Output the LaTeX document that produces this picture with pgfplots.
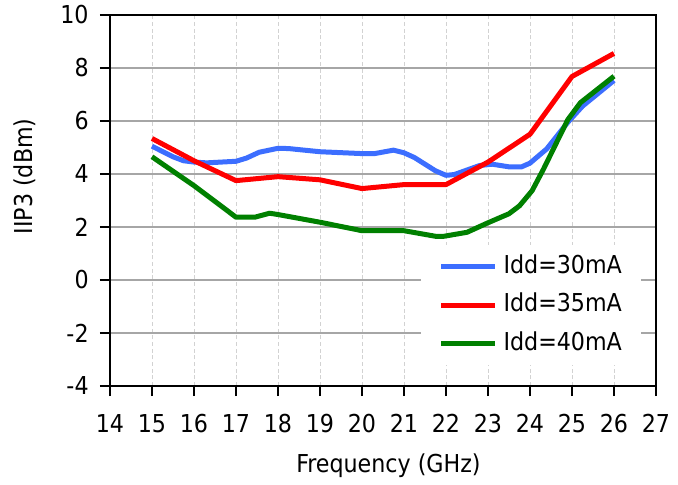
\documentclass[border=0pt]{standalone}
\usepackage{fontspec}
\setmainfont{DejaVu Sans Condensed}
\usepackage{pgfplots}
\pgfplotsset{compat=1.18}
\definecolor{c30}{RGB}{60,110,255}
\definecolor{c35}{RGB}{255,0,0}
\definecolor{c40}{RGB}{0,128,0}
\newcommand\lblfont{\fontsize{18.5}{22}\selectfont}

\begin{document}
\begin{tikzpicture}
\useasboundingbox (-82.5pt,-74.25pt) rectangle (426pt,289.5pt);
\begin{axis}[
    at={(0,0)}, anchor=south west,
    scale only axis,
    width=409.5pt, height=278.25pt,
    xmin=14, xmax=27, ymin=-4, ymax=10,
    xtick={14,...,27}, ytick={-4,-2,...,10},
    /pgf/number format/assume math mode=true,
    tick label style={font=\lblfont},
    xticklabel style={yshift=-10pt},
    yticklabel style={xshift=-5pt},
    label style={font=\lblfont},
    xlabel={Frequency (GHz)},
    ylabel={IIP3 (dBm)},
    xlabel style={at={(axis description cs:0.51,-0.2156)}, anchor=center},
    ylabel style={at={(axis description cs:-0.1557,0.565)}, anchor=center},
    tick align=outside, tick pos=left,
    major tick length=7.5pt,
    every tick/.style={black, line width=1.2pt},
    axis line style={black, line width=1.6pt},
    xmajorgrids, ymajorgrids,
    x grid style={gray!35, line width=0.6pt, dash pattern=on 3pt off 2pt},
    y grid style={gray!70, line width=1.5pt},
    legend style={at={(0.57,0.380)}, anchor=north west, fill=white, draw=none,
        font=\lblfont, inner xsep=13pt, inner ysep=6pt,
        row sep=8.9pt, column sep=3.3pt,
        nodes={inner sep=1pt, text height=14pt, text depth=4pt}},
    legend cell align=left,
    legend image code/.code={\draw[line width=3.75pt] (0pt,0pt) -- (40.5pt,0pt);},
    every axis plot/.append style={line width=3.75pt, line join=round},
]

\addplot[c30] coordinates {
    (15,5.05) (15.5,4.65) (15.75,4.5) (16,4.45) (16.3,4.42) (17,4.48)
    (17.25,4.6) (17.55,4.82) (18,4.97) (18.25,4.96) (19,4.84) (20,4.77)
    (20.3,4.77) (20.75,4.9) (21,4.8) (21.25,4.62) (21.75,4.12) (22,3.95)
    (22.2,3.98) (22.8,4.32) (23.1,4.37) (23.5,4.27) (23.8,4.27) (24,4.41)
    (24.4,4.95) (24.9,5.95) (25.25,6.56) (26,7.53)
};
\addlegendentry{Idd=30mA}

\addplot[c35] coordinates {
    (15,5.34) (16,4.5) (17,3.75) (18,3.9) (19,3.78) (20,3.45)
    (21,3.6) (22,3.6) (23,4.45) (24,5.5) (25,7.68) (26,8.55)
};
\addlegendentry{Idd=35mA}

\addplot[c40] coordinates {
    (15,4.65) (16,3.56) (17,2.37) (17.45,2.37) (17.8,2.52) (18,2.47)
    (19,2.18) (20,1.86) (21,1.86) (21.75,1.65) (21.95,1.65) (22.5,1.8)
    (23,2.16) (23.5,2.5) (23.75,2.8) (24.05,3.37) (24.32,4.18)
    (24.9,6.05) (25.2,6.69) (26,7.69)
};
\addlegendentry{Idd=40mA}

\end{axis}
\end{tikzpicture}
\end{document}
